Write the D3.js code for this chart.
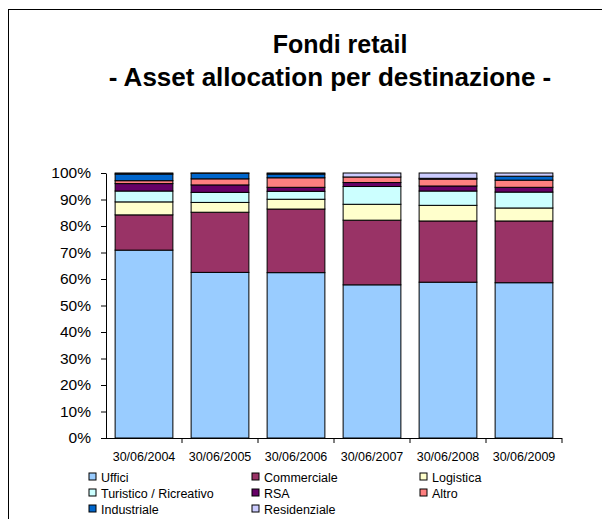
<!DOCTYPE html>
<html>
<head>
<meta charset="utf-8">
<script src="https://cdn.jsdelivr.net/npm/d3@7"></script>
<style>
  body { margin: 0; background: #fff; }
  svg { display: block; font-family: Arial, "Liberation Sans", sans-serif; }
</style>
</head>
<body>
<svg id="chart" width="602" height="519"></svg>
<script>
// categories and series (percent of total)
const dates = ["30/06/2004", "30/06/2005", "30/06/2006", "30/06/2007", "30/06/2008", "30/06/2009"];
const series = ["Uffici", "Commerciale", "Logistica", "Turistico / Ricreativo", "RSA", "Altro", "Industriale", "Residenziale"];
const uffici       = [70.9, 62.5, 62.4, 57.8, 58.8, 58.6];
const commerciale  = [13.3, 22.7, 24.0, 24.4, 23.1, 23.3];
const logistica    = [4.9, 3.7, 3.7, 6.0, 5.9, 4.9];
const turistico    = [4.1, 3.8, 3.0, 6.7, 5.4, 6.0];
const rsa          = [2.8, 2.8, 1.5, 1.5, 1.9, 1.8];
const altro        = [1.1, 2.3, 3.6, 2.1, 2.6, 2.7];
const industriale  = [2.5, 2.1, 1.4, 0.0, 0.3, 1.5];
const residenziale = [0.4, 0.1, 0.4, 1.5, 2.0, 1.2];
const yTicks = [0, 0.1, 0.2, 0.3, 0.4, 0.5, 0.6, 0.7, 0.8, 0.9, 1];

const colors = ["#99ccff", "#993366", "#ffffcc", "#ccffff", "#660066", "#ff8080", "#0066cc", "#ccccff"];
const values = [uffici, commerciale, logistica, turistico, rsa, altro, industriale, residenziale];

const rows = dates.map((d, i) => {
    let r = { date: d };
    series.forEach((s, j) => r[s] = values[j][i]);
    return r;
});

const svg = d3.select("#chart");

// outer frame (clipped by the window on the right and bottom)
svg.append("rect")
    .attr("x", 8.5).attr("y", 9.5)
    .attr("width", 620).attr("height", 540)
    .attr("fill", "none").attr("stroke", "#000").attr("stroke-width", 1);

svg.append("text")
    .attr("x", 340).attr("y", 53)
    .attr("text-anchor", "middle")
    .style("font-size", "25px").style("font-weight", "bold")
    .text("Fondi retail");
svg.append("text")
    .attr("x", 330).attr("y", 86)
    .attr("text-anchor", "middle")
    .style("font-size", "26px").style("font-weight", "bold")
    .text("- Asset allocation per destinazione -");

const plotLeft = 106, plotRight = 562, plotTop = 173, plotBottom = 438;

const x = d3.scaleBand()
    .domain(dates)
    .range([plotLeft, plotRight])
    .paddingInner(0.24)
    .paddingOuter(0.12);

const y = d3.scaleLinear()
    .domain([0, 1])
    .range([plotBottom, plotTop]);

const stack = d3.stack()
    .keys(series)
    .offset(d3.stackOffsetExpand);

const layers = stack(rows);

svg.append("g")
    .selectAll("g")
    .data(layers)
    .enter()
    .append("g")
    .attr("fill", (d, i) => colors[i])
    .selectAll("rect")
    .data(d => d)
    .enter()
    .append("rect")
    .attr("x", d => x(d.data.date))
    .attr("y", d => y(d[1]))
    .attr("width", x.bandwidth())
    .attr("height", d => y(d[0]) - y(d[1]))
    .attr("stroke", "#000")
    .attr("stroke-width", 1);

// y axis
const yAxis = svg.append("g")
    .attr("transform", `translate(${plotLeft},0)`)
    .call(d3.axisLeft(y).tickValues(yTicks).tickFormat(d3.format(".0%")).tickSize(5).tickSizeOuter(0).tickPadding(10));
yAxis.selectAll("text").style("font-size", "15.5px").attr("fill", "#000");
yAxis.selectAll("line, path").attr("stroke", "#000");

// x axis: labels under bars, ticks at category boundaries
const xAxis = svg.append("g")
    .attr("transform", `translate(0,${plotBottom})`)
    .call(d3.axisBottom(x).tickSize(0).tickPadding(14));
xAxis.selectAll("text").style("font-size", "12.5px").attr("fill", "#000");
xAxis.select("path").attr("stroke", "#000").attr("d", `M${plotLeft},0.5H${plotRight}`);

const edges = dates.map(d => x(d) + x.bandwidth() + x.step() * x.paddingInner() / 2);
xAxis.selectAll(".edge")
    .data(edges)
    .enter()
    .append("line")
    .attr("class", "edge")
    .attr("x1", d => d).attr("x2", d => d)
    .attr("y1", 0).attr("y2", 5)
    .attr("stroke", "#000");

// legend
const legend = svg.append("g")
    .selectAll("g")
    .data(series)
    .enter()
    .append("g")
    .attr("transform", (d, i) => `translate(${[89, 252, 420][i % 3]},${473 + Math.floor(i / 3) * 16})`);

legend.append("rect")
    .attr("width", 7).attr("height", 7)
    .attr("fill", (d, i) => colors[i])
    .attr("stroke", "#000");

legend.append("text")
    .attr("x", 12).attr("y", 8.5)
    .style("font-size", "12.5px")
    .text(d => d);
</script>
</body>
</html>
